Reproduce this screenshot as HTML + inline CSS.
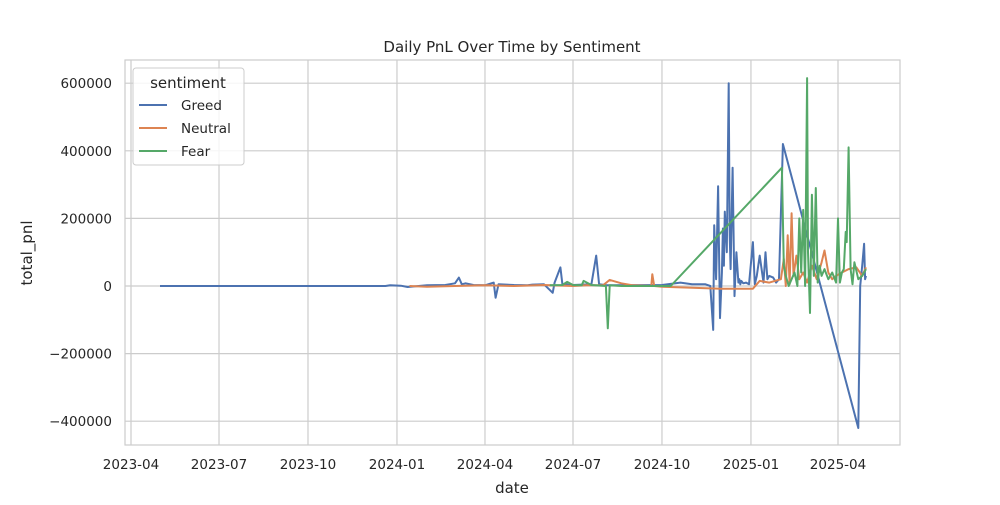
<!DOCTYPE html>
<html><head><meta charset="utf-8"><style>
body{margin:0;background:#fff;}
svg{font-family:"DejaVu Sans","Liberation Sans",sans-serif;}
</style></head><body>
<svg id="chart" width="1000" height="500" xmlns="http://www.w3.org/2000/svg">
<rect width="1000" height="500" fill="#fff"/>
<g id="grid"></g>
<rect x="125" y="60" width="775" height="385" fill="none" stroke="#ccc" stroke-width="1.2"/>
<g id="series"></g>
<g id="ticks"></g>
<text x="512" y="52" text-anchor="middle" font-size="15" fill="#262626">Daily PnL Over Time by Sentiment</text>
<text x="512" y="493" text-anchor="middle" font-size="15" fill="#262626">date</text>
<text x="32" y="253" text-anchor="middle" font-size="15" fill="#262626" transform="rotate(-90 32 253)">total_pnl</text>
<g>
<rect x="133" y="68" width="111" height="97" rx="3" fill="#fff" fill-opacity="0.8" stroke="#ccc"/>
<text x="188" y="88" text-anchor="middle" font-size="15" fill="#262626">sentiment</text>
<line x1="139" y1="105" x2="167" y2="105" stroke="#4c72b0" stroke-width="2"/>
<text x="181" y="110" font-size="13.5" fill="#262626">Greed</text>
<line x1="139" y1="128" x2="167" y2="128" stroke="#dd8452" stroke-width="2"/>
<text x="181" y="133" font-size="13.5" fill="#262626">Neutral</text>
<line x1="139" y1="151" x2="167" y2="151" stroke="#55a868" stroke-width="2"/>
<text x="181" y="156" font-size="13.5" fill="#262626">Fear</text>
</g>
</svg>
<script>
const yTicks=[600000,400000,200000,0,-200000,-400000];
const yTickLabels=["600000","400000","200000","0","\u2212200000","\u2212400000"];
const xTicks=["2023-04-01","2023-07-01","2023-10-01","2024-01-01","2024-04-01","2024-07-01","2024-10-01","2025-01-01","2025-04-01"];
const xTickLabels=["2023-04","2023-07","2023-10","2024-01","2024-04","2024-07","2024-10","2025-01","2025-04"];

const greedDates=["2023-05-01","2023-08-01","2023-12-20","2023-12-25","2024-01-05","2024-01-12","2024-02-01","2024-02-20","2024-03-01","2024-03-05","2024-03-08","2024-03-12","2024-03-20","2024-04-01","2024-04-10","2024-04-12","2024-04-15","2024-05-01","2024-05-15","2024-05-20","2024-06-01","2024-06-10","2024-06-12","2024-06-18","2024-06-20","2024-07-01","2024-07-20","2024-07-25","2024-07-28","2024-08-05","2024-10-01","2024-10-20","2024-11-01","2024-11-15","2024-11-20","2024-11-23","2024-11-24","2024-11-26","2024-11-28","2024-11-30","2024-12-02","2024-12-03","2024-12-04","2024-12-05","2024-12-07","2024-12-09","2024-12-10","2024-12-11","2024-12-13","2024-12-15","2024-12-17","2024-12-19","2024-12-20","2024-12-21","2024-12-22","2024-12-24","2024-12-27","2024-12-30","2025-01-03","2025-01-05","2025-01-07","2025-01-10","2025-01-14","2025-01-16","2025-01-18","2025-01-20","2025-01-24","2025-01-27","2025-01-30","2025-02-03","2025-04-22","2025-04-24","2025-04-26","2025-04-28","2025-04-29","2025-04-30"];
const greedValues=[0,0,0,2000,1000,-3000,2000,3000,8000,25000,5000,8000,3000,2000,10000,-35000,5000,3000,2000,4000,5000,-20000,10000,55000,5000,3000,5000,90000,5000,2000,3000,10000,5000,5000,0,-130000,180000,20000,295000,-95000,40000,170000,60000,220000,100000,600000,150000,50000,350000,-30000,100000,10000,20000,5000,15000,8000,10000,5000,130000,5000,30000,90000,10000,100000,20000,30000,25000,10000,20000,420000,-420000,0,60000,125000,20000,30000];

const neutralDates=["2024-01-14","2024-02-01","2024-03-01","2024-04-01","2024-05-01","2024-06-01","2024-07-01","2024-07-15","2024-08-01","2024-08-08","2024-08-20","2024-09-01","2024-09-20","2024-09-21","2024-09-23","2024-10-01","2024-11-01","2024-12-01","2025-01-03","2025-01-10","2025-01-20","2025-02-01","2025-02-04","2025-02-06","2025-02-08","2025-02-10","2025-02-12","2025-02-14","2025-02-17","2025-02-20","2025-02-24","2025-02-28","2025-03-05","2025-03-10","2025-03-15","2025-03-18","2025-03-22","2025-03-26","2025-03-30","2025-04-05","2025-04-12","2025-04-20","2025-04-26","2025-04-30"];
const neutralValues=[0,-2000,0,2000,0,3000,0,2000,2000,18000,8000,2000,0,35000,0,-2000,-5000,-8000,-8000,15000,10000,20000,80000,0,150000,5000,215000,30000,90000,20000,40000,10000,60000,20000,70000,105000,40000,20000,30000,40000,50000,55000,30000,55000];

const fearDates=["2024-06-07","2024-06-20","2024-06-25","2024-07-01","2024-07-10","2024-07-12","2024-07-20","2024-08-04","2024-08-06","2024-08-08","2024-08-20","2024-09-10","2024-10-10","2025-02-02","2025-02-04","2025-02-06","2025-02-09","2025-02-12","2025-02-15","2025-02-18","2025-02-20","2025-02-22","2025-02-24","2025-02-26","2025-02-28","2025-03-01","2025-03-03","2025-03-05","2025-03-07","2025-03-09","2025-03-11","2025-03-13","2025-03-15","2025-03-18","2025-03-22","2025-03-26","2025-03-30","2025-04-01","2025-04-03","2025-04-05","2025-04-07","2025-04-09","2025-04-10","2025-04-12","2025-04-14","2025-04-16","2025-04-18","2025-04-22","2025-04-26","2025-04-30"];
const fearValues=[2000,3000,12000,3000,2000,15000,3000,0,-125000,2000,0,0,0,350000,60000,30000,0,20000,40000,0,200000,40000,225000,0,615000,100000,-80000,270000,30000,290000,10000,60000,30000,50000,20000,40000,10000,200000,10000,40000,50000,160000,130000,410000,50000,5000,70000,20000,30000,50000];

const NS="http://www.w3.org/2000/svg";
const t0=Date.UTC(2023,3,1), t1=Date.UTC(2025,3,1);
function parse(d){const p=d.split("-").map(Number);return Date.UTC(p[0],p[1]-1,p[2]);}
function xs(d){return 131+(parse(d)-t0)/(t1-t0)*(838-131);}
function ys(v){return 286-v*67.6/200000;}
const grid=document.getElementById("grid"), ticks=document.getElementById("ticks"), series=document.getElementById("series");
yTicks.forEach((v,i)=>{
 const l=document.createElementNS(NS,"line");
 l.setAttribute("x1",125);l.setAttribute("x2",900);l.setAttribute("y1",ys(v));l.setAttribute("y2",ys(v));
 l.setAttribute("stroke","#ccc");l.setAttribute("stroke-width","1.2");
 
 
 grid.appendChild(l);
 const t=document.createElementNS(NS,"text");
 t.setAttribute("x",112);t.setAttribute("y",ys(v)+5);t.setAttribute("text-anchor","end");
 t.setAttribute("font-size","13.5");t.setAttribute("fill","#262626");t.textContent=yTickLabels[i];
 
 
 ticks.appendChild(t);
});
xTicks.forEach((d,i)=>{
 const x=xs(d);
 const l=document.createElementNS(NS,"line");
 l.setAttribute("x1",x);l.setAttribute("x2",x);l.setAttribute("y1",60);l.setAttribute("y2",445);
 l.setAttribute("stroke","#ccc");l.setAttribute("stroke-width","1.2");
 
 
 grid.appendChild(l);
 const t=document.createElementNS(NS,"text");
 t.setAttribute("x",x);t.setAttribute("y",469);t.setAttribute("text-anchor","middle");
 t.setAttribute("font-size","13.5");t.setAttribute("fill","#262626");t.textContent=xTickLabels[i];
 
 
 ticks.appendChild(t);
});
function draw(dates,vals,color,name){
 const p=document.createElementNS(NS,"polyline");
 p.setAttribute("points",dates.map((d,i)=>xs(d).toFixed(1)+","+ys(vals[i]).toFixed(1)).join(" "));
 p.setAttribute("fill","none");p.setAttribute("stroke",color);p.setAttribute("stroke-width","2");
 p.setAttribute("stroke-linejoin","round");
 
 
 series.appendChild(p);
}
draw(greedDates,greedValues,"#4c72b0","greed-line");
draw(neutralDates,neutralValues,"#dd8452","neutral-line");
draw(fearDates,fearValues,"#55a868","fear-line");
</script>
</body></html>
